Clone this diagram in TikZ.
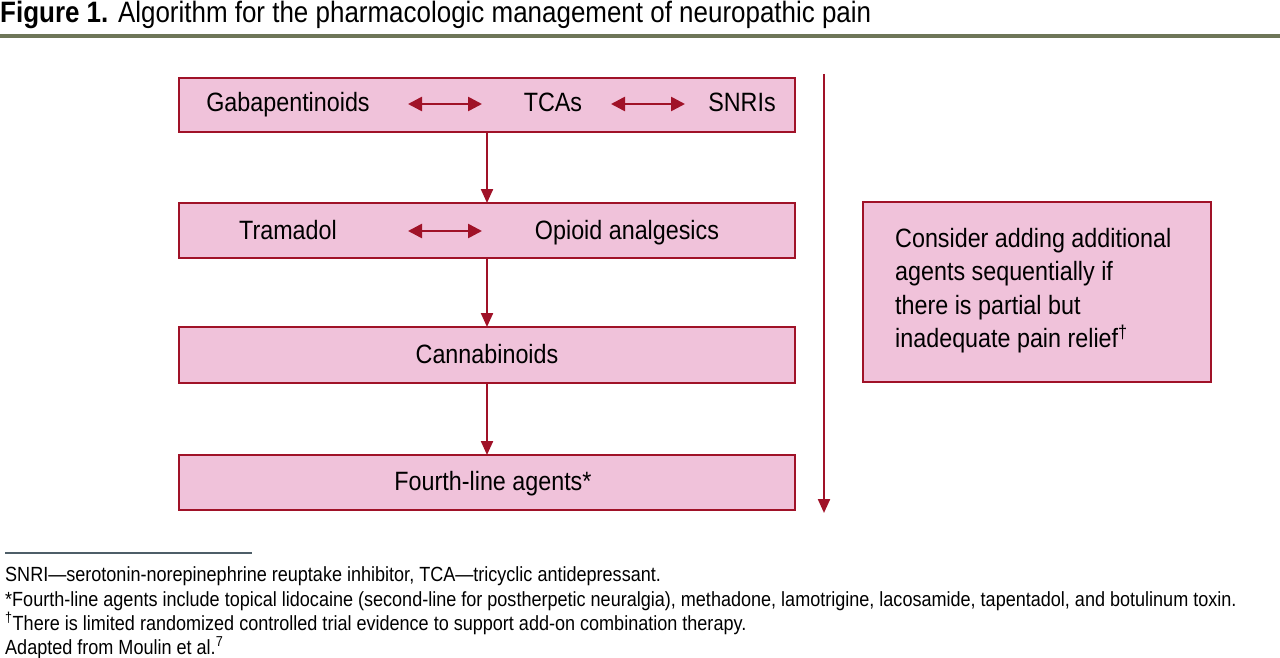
\documentclass[tikz,border=0pt]{standalone}
\usepackage{fontspec}
\setmainfont{Liberation Sans}[FakeStretch=0.88]
\usetikzlibrary{arrows.meta}
\definecolor{boxfill}{HTML}{F0C2DA}
\definecolor{boxline}{HTML}{A01228}
\definecolor{rule}{HTML}{6E7658}
\definecolor{frule}{HTML}{4E5E68}
\begin{document}
\begin{tikzpicture}[x=1pt,y=-1pt,
  box/.style={draw=boxline,fill=boxfill,line width=2pt},
  lbl/.style={font=\fontsize{26.5}{30}\selectfont,inner sep=0pt,anchor=base},
  dbl/.style={boxline,line width=2.6pt,{Triangle[width=14pt,length=14pt]}-{Triangle[width=14pt,length=14pt]}},
  down/.style={boxline,line width=2.2pt,-{Triangle[width=12pt,length=14pt]}},
  foot/.style={font=\fontsize{20.5}{23}\selectfont,anchor=base west,inner sep=0pt}]
\useasboundingbox (0,0) rectangle (1280,658);
\node[anchor=base west,inner sep=0pt,font=\fontsize{29.5}{32}\selectfont] (title) at (0,23) {\textbf{Figure 1.} Algorithm for the pharmacologic management of neuropathic pain};
\fill[rule] (0,34) rectangle (1280,38);
\draw[box] (179,78) rectangle (795,132);
\draw[box] (179,203) rectangle (795,258);
\draw[box] (179,327) rectangle (795,383);
\draw[box] (179,455) rectangle (795,510);
\draw[box] (863,202) rectangle (1211,382);
\node[lbl] (gab) at (288,112) {Gabapentinoids};
\node[lbl] (tca) at (553,112) {TCAs};
\node[lbl] (snri) at (742,112) {SNRIs};
\coordinate (a1) at (408,104); \coordinate (a2) at (482,104);
\coordinate (a3) at (611,104); \coordinate (a4) at (685,104);
\draw[dbl] (a1) -- (a2); \draw[dbl] (a3) -- (a4);
\node[lbl] (tra) at (288,239) {Tramadol};
\node[lbl] (opi) at (627,239) {Opioid analgesics};
\coordinate (b1) at (408,231); \coordinate (b2) at (482,231);
\draw[dbl] (b1) -- (b2);
\node[lbl] (can) at (487,363) {Cannabinoids};
\node[lbl] (four) at (493,490) {Fourth-line agents*};
\coordinate (d1) at (487,132); \coordinate (d2) at (487,203);
\coordinate (d3) at (487,258); \coordinate (d4) at (487,327);
\coordinate (d5) at (487,383); \coordinate (d6) at (487,455);
\draw[down] (d1) -- (d2); \draw[down] (d3) -- (d4); \draw[down] (d5) -- (d6);
\coordinate (v1) at (824,74); \coordinate (v2) at (824,513);
\draw[down] (v1) -- (v2);
\node[anchor=north west,inner sep=0pt,align=left,font=\fontsize{26.5}{33.5}\selectfont] (cons) at (895,228)
 {Consider adding additional\\agents sequentially if\\there is partial but\\inadequate pain relief\textsuperscript{\dag}};
\draw[frule,line width=1.4pt] (5,553) -- (252,553);
\node[foot] (f1) at (5,581) {SNRI—serotonin-norepinephrine reuptake inhibitor, TCA—tricyclic antidepressant.};
\node[foot] (f2) at (5,606) {*Fourth-line agents include topical lidocaine (second-line for postherpetic neuralgia), methadone, lamotrigine, lacosamide, tapentadol, and botulinum toxin.};
\node[foot] (f3) at (5,630) {\textsuperscript{\dag}There is limited randomized controlled trial evidence to support add-on combination therapy.};
\node[foot] (f4) at (5,654) {Adapted from Moulin et al.\textsuperscript{7}};
\end{tikzpicture}
\end{document}
